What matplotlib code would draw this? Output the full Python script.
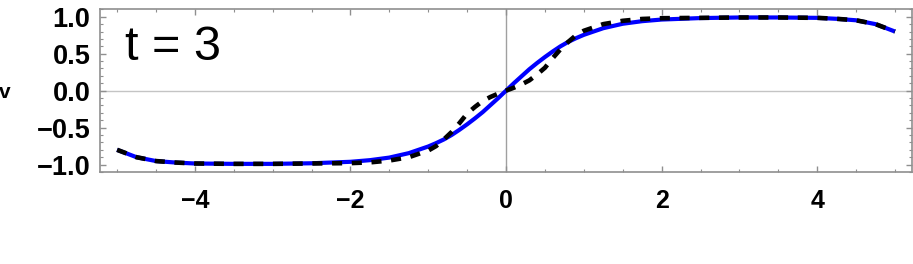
import numpy as np
import matplotlib
matplotlib.use("Agg")
import matplotlib.pyplot as plt
from matplotlib.ticker import MultipleLocator, FuncFormatter

plt.rcParams["font.family"] = ["Liberation Sans", "DejaVu Sans"]

# ── data (v at time t = 3) ─────────────────────────────────────────────────────
x_pos = [0.0, 0.1, 0.2, 0.3, 0.4, 0.5, 0.6, 0.7, 0.8, 0.9, 1.0,
         1.25, 1.5, 1.75, 2.0, 2.5, 3.0, 3.5, 4.0, 4.25, 4.5, 4.75, 5.0]
v_solid = [0.0, 0.10, 0.195, 0.29, 0.375, 0.455, 0.53, 0.60, 0.66, 0.71, 0.755,
           0.845, 0.905, 0.94, 0.962, 0.982, 0.99, 0.99, 0.985, 0.972, 0.952, 0.90, 0.80]
v_dashed = [0.0, 0.04, 0.085, 0.14, 0.22, 0.31, 0.44, 0.56, 0.66, 0.75, 0.81,
            0.90, 0.945, 0.97, 0.98, 0.985, 0.99, 0.99, 0.985, 0.972, 0.952, 0.90, 0.80]

# curve is odd in x, mirror the positive half
x = np.concatenate([-np.array(x_pos[:0:-1]), x_pos])
v1 = np.concatenate([-np.array(v_solid[:0:-1]), v_solid])
v2 = np.concatenate([-np.array(v_dashed[:0:-1]), v_dashed])

FRAME = "#8f8f8f"


def fmt(fmt_str):
    def f(val, pos):
        s = fmt_str % abs(val)
        return ("\u2212" + s) if val < -1e-9 else s
    return FuncFormatter(f)


fig = plt.figure(figsize=(9.13, 2.64), dpi=100)
ax = fig.add_axes([0.1095, 0.3485, 0.8895, 0.6175])

ax.axhline(0, color="#c4c4c4", lw=1.0, zorder=1)
ax.axvline(0, color="#a0a0a0", lw=1.0, zorder=1)

ax.plot(x, v1, color="#0000ff", lw=3.0, solid_capstyle="butt", zorder=3)
ax.plot(x, v2, color="black", lw=3.3, linestyle=(0, (2.2, 2.1)), zorder=4)

ax.set_xlim(-5.22, 5.22)
ax.set_ylim(-1.1, 1.105)

ax.xaxis.set_major_locator(MultipleLocator(2))
ax.xaxis.set_minor_locator(MultipleLocator(0.5))
ax.yaxis.set_major_locator(MultipleLocator(0.5))
ax.yaxis.set_minor_locator(MultipleLocator(0.1))
ax.xaxis.set_major_formatter(fmt("%d"))
ax.yaxis.set_major_formatter(fmt("%.1f"))

ax.tick_params(which="both", direction="in", top=True, right=True, color=FRAME)
ax.tick_params(which="major", length=4.0, width=1.0)
ax.tick_params(which="minor", length=2.2, width=0.8)
ax.tick_params(axis="x", which="major", labelsize=18, pad=12)
ax.tick_params(axis="y", which="major", labelsize=19.5, pad=7)
for lab in ax.get_xticklabels() + ax.get_yticklabels():
    lab.set_fontweight("bold")

for sp in ax.spines.values():
    sp.set_color(FRAME)
    sp.set_linewidth(1.2)

ax.set_ylabel("v", rotation=0, fontsize=15, fontweight="bold", va="center", ha="left")
ax.yaxis.set_label_coords(-0.124, 0.49)

ax.text(0.031, 0.69, "t = 3", transform=ax.transAxes, fontsize=35,
        va="baseline", ha="left")

fig.savefig("out.png", dpi=100)
